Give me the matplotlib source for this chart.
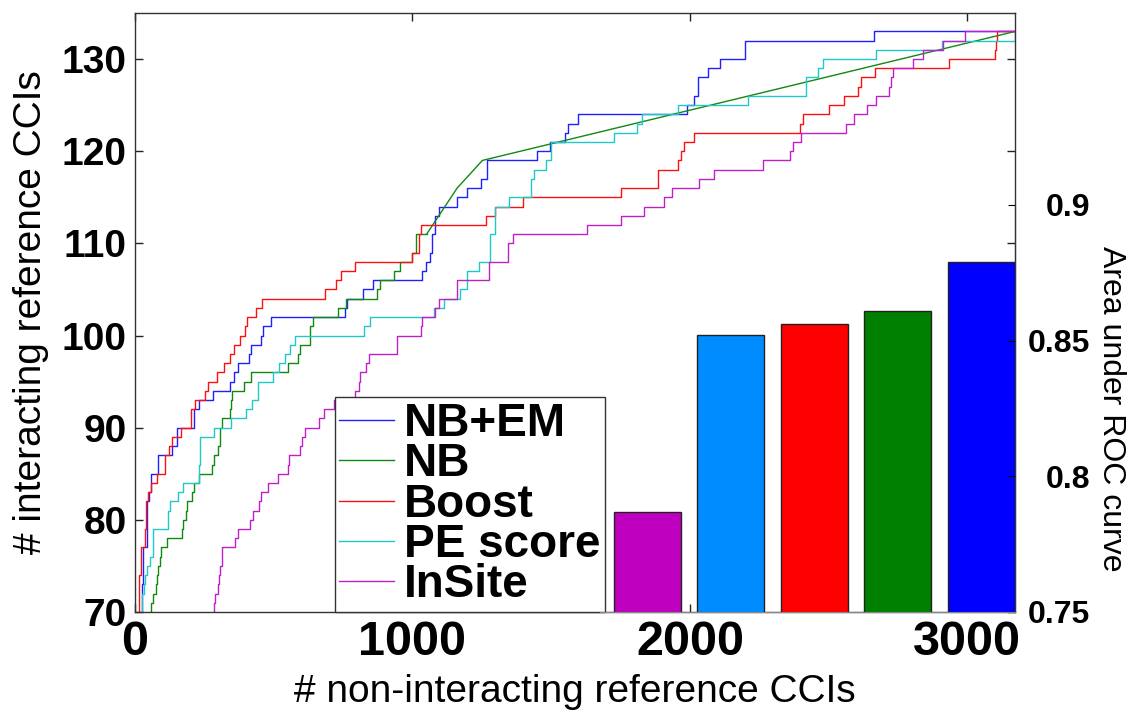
import matplotlib
matplotlib.use("Agg")
import matplotlib.pyplot as plt

plt.rcParams['font.family'] = ['Liberation Sans', 'DejaVu Sans']

# step curves: x where each level is reached, y level
nbem_x = [26, 26, 30, 42, 50, 57, 81, 132, 150, 214, 232, 280, 343, 355, 370, 411, 419, 454, 463, 490,
          756, 764, 821, 858, 1035, 1050, 1063, 1072, 1082, 1094, 1161, 1197, 1246, 1270, 1450, 1496,
          1549, 1561, 1597, 1989, 2016, 2028, 2066, 2110, 2200, 2663, 3172]
nbem_y = [69, 73, 77, 82, 83, 85, 87, 88, 90, 92, 93, 94, 95, 96, 97, 98, 99, 100, 101, 102,
          103, 104, 105, 106, 107, 108, 109, 111, 113, 114, 115, 116, 117, 119, 120, 121,
          122, 123, 124, 125, 126, 128, 129, 130, 132, 133, 133]

nb_x = [54, 54, 58, 63, 75, 78, 84, 90, 94, 114, 171, 174, 183, 187, 207, 211, 232, 279, 286, 300,
        305, 307, 313, 343, 346, 349, 393, 417, 553, 586, 596, 632, 641, 730, 762, 872, 884, 935,
        955, 999, 1011, 1051]
nb_y = [69, 70, 71, 72, 73, 74, 75, 76, 77, 78, 79, 80, 81, 82, 83, 84, 85, 86, 87, 88,
        89, 90, 91, 92, 93, 94, 95, 96, 97, 98, 99, 101, 102, 103, 104, 105, 106, 107,
        108, 109, 111, 111]
nb_tail_x = [1051, 1161, 1252, 3172]
nb_tail_y = [111, 116, 119, 133]

boost_x = [14, 14, 20, 36, 40, 46, 57, 78, 108, 124, 132, 166, 202, 217, 253, 263, 296, 320, 343, 355,
           379, 396, 405, 437, 457, 683, 724, 744, 792, 997, 1023, 1032, 1264, 1296, 1398, 1751,
           1886, 1958, 1968, 1977, 2016, 2398, 2409, 2503, 2557, 2606, 2615, 2666, 2934, 3099,
           3103, 3108, 3172]
boost_y = [69, 74, 77, 79, 82, 83, 84, 85, 87, 88, 89, 90, 92, 93, 94, 95, 96, 97, 98, 99,
           100, 101, 102, 103, 104, 105, 106, 107, 108, 109, 111, 112, 113, 114, 115, 116,
           118, 119, 120, 121, 122, 123, 124, 125, 126, 127, 128, 129, 130, 131,
           132, 133, 133]

pe_x = [24, 24, 26, 34, 36, 42, 54, 66, 120, 126, 154, 172, 229, 235, 285, 345, 400, 421, 442, 499,
        520, 541, 560, 577, 827, 846, 1077, 1113, 1170, 1195, 1240, 1279, 1296, 1348, 1428, 1438,
        1480, 1498, 1727, 1809, 1829, 1958, 2211, 2419, 2461, 2479, 2672, 2910, 3172]
pe_y = [69, 71, 72, 73, 74, 75, 76, 79, 81, 82, 83, 84, 86, 89, 90, 91, 92, 93, 95, 96,
        97, 98, 99, 100, 101, 102, 103, 104, 105, 107, 108, 111, 114, 115, 117, 118,
        119, 121, 122, 123, 124, 125, 126, 128, 129, 130, 131, 132, 133]

insite_x = [283, 283, 286, 289, 298, 301, 307, 313, 361, 371, 415, 427, 448, 455, 481, 517, 553, 556,
            595, 602, 614, 662, 682, 716, 794, 806, 812, 834, 842, 944, 1029, 1035, 1080, 1095, 1161,
            1276, 1344, 1362, 1628, 1753, 1835, 1908, 1934, 2034, 2086, 2262, 2360, 2371, 2401, 2563,
            2590, 2640, 2672, 2716, 2723, 2732, 2804, 2840, 2912, 2990, 3172]
insite_y = [69, 70, 71, 72, 73, 74, 75, 77, 78, 79, 80, 81, 82, 83, 84, 85, 86, 87,
            88, 89, 90, 91, 92, 93, 94, 95, 96, 97, 98, 100, 101, 102, 103, 104, 106,
            108, 110, 111, 112, 113, 114, 115, 116, 117, 118, 119, 120, 121, 122, 123,
            124, 125, 126, 127, 128, 129, 130, 131, 132, 133, 133]

# AUC bars
bar_names = ['InSite', 'PE score', 'Boost', 'NB', 'NB+EM']
auc = [0.787, 0.852, 0.856, 0.861, 0.879]
bar_colors = ['#BF00BF', '#008CFF', '#FF0000', '#008000', '#0000FF']

fig = plt.figure(figsize=(11.29, 7.14), dpi=100)
ax = fig.add_axes([0.1196, 0.1429, 0.7795, 0.8389])

lw = 1.0
ax.plot(nbem_x, nbem_y, drawstyle='steps-post', color='#2020FF', lw=lw, label='NB+EM')
ax.plot(nb_x, nb_y, drawstyle='steps-post', color='#118811', lw=lw, label='NB')
ax.plot(nb_tail_x, nb_tail_y, color='#118811', lw=lw)
ax.plot(boost_x, boost_y, drawstyle='steps-post', color='#FF1010', lw=lw, label='Boost')
ax.plot(pe_x, pe_y, drawstyle='steps-post', color='#20C8C8', lw=lw, label='PE score')
ax.plot(insite_x, insite_y, drawstyle='steps-post', color='#C020C8', lw=lw, label='InSite')

ax.set_xlim(0, 3172)
ax.set_ylim(70, 135)
ax.set_xticks([0, 1000, 2000, 3000])
ax.set_yticks([70, 80, 90, 100, 110, 120, 130])
ax.tick_params(direction='in', top=True, right=True, length=6, width=1, colors='#222222')
ax.tick_params(axis='x', labelsize=35, pad=6, labelcolor='black')
ax.tick_params(axis='y', labelsize=28, pad=6, labelcolor='black')
for lab in ax.get_xticklabels() + ax.get_yticklabels():
    lab.set_fontweight('bold')
for s in ax.spines.values():
    s.set_color('#333333')
    s.set_linewidth(1)
ax.set_xlabel('# non-interacting reference CCIs', fontsize=28, labelpad=6)
ax.set_ylabel('# interacting reference CCIs', fontsize=28, labelpad=9)

leg = ax.legend(loc='lower left', bbox_to_anchor=(0.227, 0.0), borderaxespad=0,
                fancybox=False, framealpha=1, edgecolor='#333333',
                prop={'size': 33, 'weight': 'bold'}, handlelength=1.2,
                handletextpad=0.2, labelspacing=-0.08, borderpad=0.1)
leg.get_frame().set_linewidth(1)

# inset bar axes
ins = fig.add_axes([0.5314, 0.1429, 0.3676, 0.570])
ins.patch.set_alpha(0)
ins.bar(range(1, 6), auc, width=0.8, color=bar_colors, edgecolor='#222222', linewidth=1)
ins.set_xlim(0.434, 5.404)
ins.set_ylim(0.75, 0.9)
ins.set_yticks([0.75, 0.8, 0.85, 0.9])
ins.set_yticklabels(['0.75', '0.8', '0.85', '0.9'])
ins.set_xticks([])
ins.yaxis.tick_right()
ins.yaxis.set_label_position('right')
ins.tick_params(axis='y', direction='in', length=5, labelsize=23, pad=54)
for lab in ins.get_yticklabels():
    lab.set_fontweight('bold')
    lab.set_horizontalalignment('right')
ins.spines['left'].set_visible(False)
ins.spines['top'].set_visible(False)
ins.spines['bottom'].set_color('#888888')
ins.spines['right'].set_color('#333333')
ins.set_ylabel('Area under ROC curve', fontsize=23, rotation=-90, labelpad=26)

fig.savefig('out.png', dpi=100)
